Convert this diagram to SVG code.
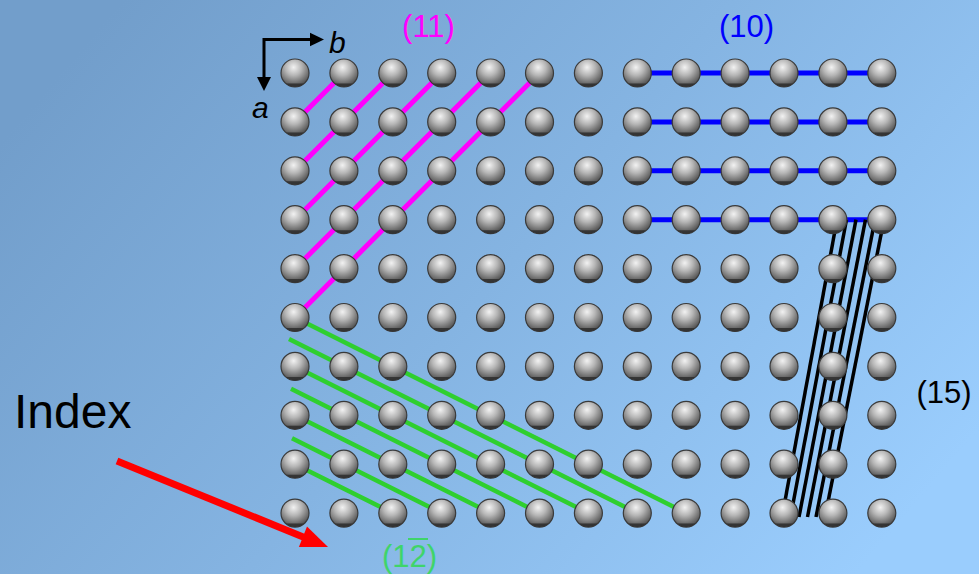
<svg xmlns="http://www.w3.org/2000/svg" width="979" height="574" viewBox="0 0 979 574">
  <style>
    .lbl { font-family: "Liberation Sans", Arial, sans-serif; font-size: 31px; text-anchor: middle; }
    .axis { font-family: "Liberation Sans", Arial, sans-serif; font-style: italic; font-size: 30px; fill: #000; }
    .p11 { stroke: #ff00ff; stroke-width: 5; stroke-linecap: butt; fill: none; }
    .p10 { stroke: #0000ff; stroke-width: 5; fill: none; }
    .p12 { stroke: #2fcf2f; stroke-width: 4.5; stroke-linecap: butt; fill: none; }
    .p15 { stroke: #000; stroke-width: 3.5; fill: none; }
  </style>
  <defs>
    <linearGradient id="bg" x1="0" y1="0.25" x2="1" y2="0.75">
      <stop offset="0" stop-color="#729ecb"/>
      <stop offset="0.5" stop-color="#85b4e2"/>
      <stop offset="1" stop-color="#9acdfd"/>
    </linearGradient>
    <radialGradient id="ball" cx="0.45" cy="0.3" r="0.72">
      <stop offset="0" stop-color="#f2f2f2"/>
      <stop offset="0.4" stop-color="#b6b6b6"/>
      <stop offset="0.8" stop-color="#6a6a6a"/>
      <stop offset="1" stop-color="#464646"/>
    </radialGradient>
    <g id="atom">
      <circle r="14" fill="url(#ball)" stroke="#3a3a3a" stroke-width="1.2"/>
      <path d="M-9,10.5 A14,14 0 0 0 9,10.5 Z" fill="#2e2e2e" opacity="0.85"/>
    </g>
  </defs>

  <rect id="background" width="979" height="574" fill="url(#bg)"/>

  <!-- lattice plane traces, drawn under the atoms -->
  <g id="connectors">
    <g id="plane-11">
      <line class="p11" x1="343.9" y1="73" x2="295" y2="121.9"/>
      <line class="p11" x1="392.8" y1="73" x2="295" y2="170.8"/>
      <line class="p11" x1="441.7" y1="73" x2="295" y2="219.7"/>
      <line class="p11" x1="490.6" y1="73" x2="295" y2="268.6"/>
      <line class="p11" x1="539.5" y1="73" x2="295" y2="317.5"/>
    </g>
    <g id="plane-10">
      <line class="p10" x1="637.3" y1="73" x2="881.8" y2="73"/>
      <line class="p10" x1="637.3" y1="121.9" x2="881.8" y2="121.9"/>
      <line class="p10" x1="637.3" y1="170.8" x2="881.8" y2="170.8"/>
      <line class="p10" x1="637.3" y1="219.7" x2="881.8" y2="219.7"/>
    </g>
    <g id="plane-1-2bar">
      <line class="p12" x1="295" y1="317.5" x2="686.2" y2="513.1"/>
      <line class="p12" x1="289" y1="339" x2="637.3" y2="513.1"/>
      <line class="p12" x1="295" y1="366.4" x2="588.4" y2="513.1"/>
      <line class="p12" x1="291" y1="388.8" x2="539.5" y2="513.1"/>
      <line class="p12" x1="295" y1="415.3" x2="490.6" y2="513.1"/>
      <line class="p12" x1="292" y1="438.3" x2="441.7" y2="513.1"/>
      <line class="p12" x1="295" y1="464.2" x2="392.8" y2="513.1"/>
    </g>
    <g id="plane-15">
      <line class="p15" x1="837" y1="219.7" x2="782" y2="517"/>
      <line class="p15" x1="846.5" y1="219.7" x2="790.5" y2="517"/>
      <line class="p15" x1="856" y1="219.7" x2="799" y2="517"/>
      <line class="p15" x1="865.5" y1="219.7" x2="807.5" y2="517"/>
      <line class="p15" x1="875" y1="219.7" x2="816" y2="517"/>
      <line class="p15" x1="884" y1="219.7" x2="825" y2="517"/>
    </g>
  </g>

  <!-- 13 x 10 square lattice of atoms -->
  <g id="atoms">
    <g id="row-0">
      <use href="#atom" x="295" y="73"/><use href="#atom" x="343.9" y="73"/><use href="#atom" x="392.8" y="73"/><use href="#atom" x="441.7" y="73"/><use href="#atom" x="490.6" y="73"/><use href="#atom" x="539.5" y="73"/><use href="#atom" x="588.4" y="73"/><use href="#atom" x="637.3" y="73"/><use href="#atom" x="686.2" y="73"/><use href="#atom" x="735.1" y="73"/><use href="#atom" x="784" y="73"/><use href="#atom" x="832.9" y="73"/><use href="#atom" x="881.8" y="73"/>
    </g>
    <g id="row-1">
      <use href="#atom" x="295" y="121.9"/><use href="#atom" x="343.9" y="121.9"/><use href="#atom" x="392.8" y="121.9"/><use href="#atom" x="441.7" y="121.9"/><use href="#atom" x="490.6" y="121.9"/><use href="#atom" x="539.5" y="121.9"/><use href="#atom" x="588.4" y="121.9"/><use href="#atom" x="637.3" y="121.9"/><use href="#atom" x="686.2" y="121.9"/><use href="#atom" x="735.1" y="121.9"/><use href="#atom" x="784" y="121.9"/><use href="#atom" x="832.9" y="121.9"/><use href="#atom" x="881.8" y="121.9"/>
    </g>
    <g id="row-2">
      <use href="#atom" x="295" y="170.8"/><use href="#atom" x="343.9" y="170.8"/><use href="#atom" x="392.8" y="170.8"/><use href="#atom" x="441.7" y="170.8"/><use href="#atom" x="490.6" y="170.8"/><use href="#atom" x="539.5" y="170.8"/><use href="#atom" x="588.4" y="170.8"/><use href="#atom" x="637.3" y="170.8"/><use href="#atom" x="686.2" y="170.8"/><use href="#atom" x="735.1" y="170.8"/><use href="#atom" x="784" y="170.8"/><use href="#atom" x="832.9" y="170.8"/><use href="#atom" x="881.8" y="170.8"/>
    </g>
    <g id="row-3">
      <use href="#atom" x="295" y="219.7"/><use href="#atom" x="343.9" y="219.7"/><use href="#atom" x="392.8" y="219.7"/><use href="#atom" x="441.7" y="219.7"/><use href="#atom" x="490.6" y="219.7"/><use href="#atom" x="539.5" y="219.7"/><use href="#atom" x="588.4" y="219.7"/><use href="#atom" x="637.3" y="219.7"/><use href="#atom" x="686.2" y="219.7"/><use href="#atom" x="735.1" y="219.7"/><use href="#atom" x="784" y="219.7"/><use href="#atom" x="832.9" y="219.7"/><use href="#atom" x="881.8" y="219.7"/>
    </g>
    <g id="row-4">
      <use href="#atom" x="295" y="268.6"/><use href="#atom" x="343.9" y="268.6"/><use href="#atom" x="392.8" y="268.6"/><use href="#atom" x="441.7" y="268.6"/><use href="#atom" x="490.6" y="268.6"/><use href="#atom" x="539.5" y="268.6"/><use href="#atom" x="588.4" y="268.6"/><use href="#atom" x="637.3" y="268.6"/><use href="#atom" x="686.2" y="268.6"/><use href="#atom" x="735.1" y="268.6"/><use href="#atom" x="784" y="268.6"/><use href="#atom" x="832.9" y="268.6"/><use href="#atom" x="881.8" y="268.6"/>
    </g>
    <g id="row-5">
      <use href="#atom" x="295" y="317.5"/><use href="#atom" x="343.9" y="317.5"/><use href="#atom" x="392.8" y="317.5"/><use href="#atom" x="441.7" y="317.5"/><use href="#atom" x="490.6" y="317.5"/><use href="#atom" x="539.5" y="317.5"/><use href="#atom" x="588.4" y="317.5"/><use href="#atom" x="637.3" y="317.5"/><use href="#atom" x="686.2" y="317.5"/><use href="#atom" x="735.1" y="317.5"/><use href="#atom" x="784" y="317.5"/><use href="#atom" x="832.9" y="317.5"/><use href="#atom" x="881.8" y="317.5"/>
    </g>
    <g id="row-6">
      <use href="#atom" x="295" y="366.4"/><use href="#atom" x="343.9" y="366.4"/><use href="#atom" x="392.8" y="366.4"/><use href="#atom" x="441.7" y="366.4"/><use href="#atom" x="490.6" y="366.4"/><use href="#atom" x="539.5" y="366.4"/><use href="#atom" x="588.4" y="366.4"/><use href="#atom" x="637.3" y="366.4"/><use href="#atom" x="686.2" y="366.4"/><use href="#atom" x="735.1" y="366.4"/><use href="#atom" x="784" y="366.4"/><use href="#atom" x="832.9" y="366.4"/><use href="#atom" x="881.8" y="366.4"/>
    </g>
    <g id="row-7">
      <use href="#atom" x="295" y="415.3"/><use href="#atom" x="343.9" y="415.3"/><use href="#atom" x="392.8" y="415.3"/><use href="#atom" x="441.7" y="415.3"/><use href="#atom" x="490.6" y="415.3"/><use href="#atom" x="539.5" y="415.3"/><use href="#atom" x="588.4" y="415.3"/><use href="#atom" x="637.3" y="415.3"/><use href="#atom" x="686.2" y="415.3"/><use href="#atom" x="735.1" y="415.3"/><use href="#atom" x="784" y="415.3"/><use href="#atom" x="832.9" y="415.3"/><use href="#atom" x="881.8" y="415.3"/>
    </g>
    <g id="row-8">
      <use href="#atom" x="295" y="464.2"/><use href="#atom" x="343.9" y="464.2"/><use href="#atom" x="392.8" y="464.2"/><use href="#atom" x="441.7" y="464.2"/><use href="#atom" x="490.6" y="464.2"/><use href="#atom" x="539.5" y="464.2"/><use href="#atom" x="588.4" y="464.2"/><use href="#atom" x="637.3" y="464.2"/><use href="#atom" x="686.2" y="464.2"/><use href="#atom" x="735.1" y="464.2"/><use href="#atom" x="784" y="464.2"/><use href="#atom" x="832.9" y="464.2"/><use href="#atom" x="881.8" y="464.2"/>
    </g>
    <g id="row-9">
      <use href="#atom" x="295" y="513.1"/><use href="#atom" x="343.9" y="513.1"/><use href="#atom" x="392.8" y="513.1"/><use href="#atom" x="441.7" y="513.1"/><use href="#atom" x="490.6" y="513.1"/><use href="#atom" x="539.5" y="513.1"/><use href="#atom" x="588.4" y="513.1"/><use href="#atom" x="637.3" y="513.1"/><use href="#atom" x="686.2" y="513.1"/><use href="#atom" x="735.1" y="513.1"/><use href="#atom" x="784" y="513.1"/><use href="#atom" x="832.9" y="513.1"/><use href="#atom" x="881.8" y="513.1"/>
    </g>
  </g>

  <!-- lattice axes -->
  <g id="axes">
    <polyline points="311,39.5 264,39.5 264,78" fill="none" stroke="#000" stroke-width="3"/>
    <polygon points="310,32.7 324,39.5 310,46.3" fill="#000"/>
    <polygon points="257,77 264,91 271,77" fill="#000"/>
    <text class="axis" x="329" y="53">b</text>
    <text class="axis" x="252" y="118" font-size="32">a</text>
  </g>

  <!-- Miller index labels -->
  <text id="label-11" class="lbl" x="428.5" y="37" fill="#ff00ff">(11)</text>
  <text id="label-10" class="lbl" x="746.5" y="37" fill="#0000ff">(10)</text>
  <text id="label-15" class="lbl" x="944" y="403" fill="#000">(15)</text>
  <g id="label-1-2bar">
    <text class="lbl" x="409.5" y="567" fill="#3fd46a">(12)</text>
    <line x1="408" y1="539" x2="428" y2="539" stroke="#3fd46a" stroke-width="2"/>
  </g>

  <!-- index pointer -->
  <g id="index">
    <text x="14" y="428" font-family="'Liberation Sans', Arial, sans-serif" font-size="48" fill="#000">Index</text>
    <line x1="117" y1="461" x2="305" y2="537.7" stroke="#ff0000" stroke-width="7"/>
    <polygon points="328,547 307,526.6 298.9,547" fill="#ff0000"/>
  </g>
</svg>
